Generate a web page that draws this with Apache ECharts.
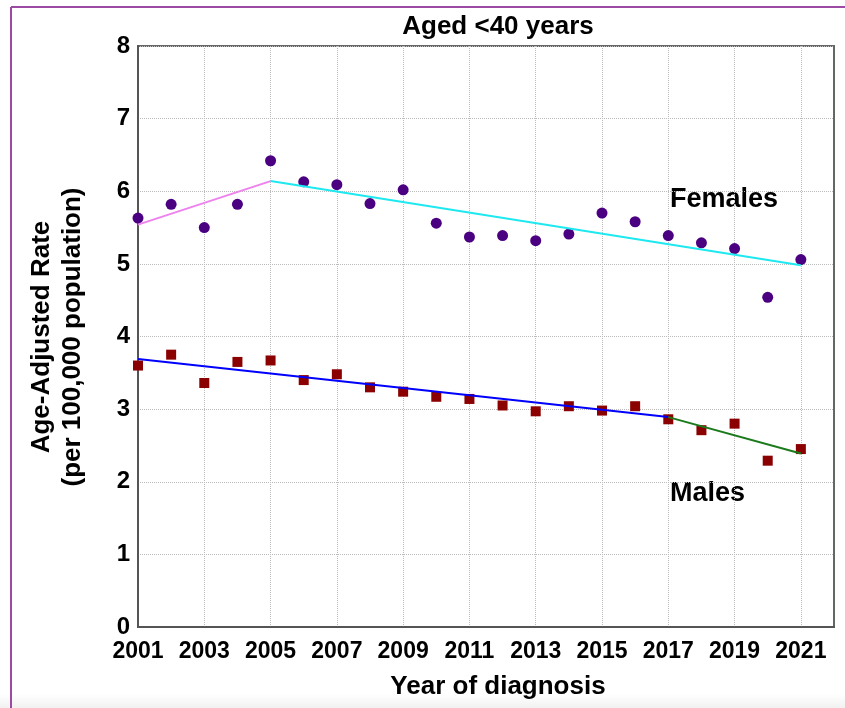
<!DOCTYPE html>
<html>
<head>
<meta charset="utf-8">
<script src="https://cdn.jsdelivr.net/npm/echarts@6/dist/echarts.min.js"></script>
<style>
html,body{margin:0;padding:0;background:#fff;}
#c{width:845px;height:708px;}
</style>
</head>
<body>
<div id="c"></div>
<script>
const years = ['2001','2002','2003','2004','2005','2006','2007','2008','2009','2010','2011','2012','2013','2014','2015','2016','2017','2018','2019','2020','2021','2022'];
const femaleRates = [5.63,5.82,5.50,5.82,6.42,6.13,6.09,5.83,6.02,5.56,5.37,5.39,5.32,5.41,5.70,5.58,5.39,5.29,5.21,4.54,5.06];
const maleRates = [3.60,3.75,3.36,3.65,3.67,3.40,3.48,3.30,3.24,3.17,3.14,3.05,2.97,3.04,2.98,3.04,2.86,2.71,2.80,2.29,2.45];
const femaleTrend1 = [['2001',5.54],['2005',6.14]];
const femaleTrend2 = [['2005',6.14],['2021',4.98]];
const maleTrend1 = [['2001',3.69],['2017',2.89]];
const maleTrend2 = [['2017',2.89],['2021',2.39]];
const yTicks = [0,1,2,3,4,5,6,7,8];

const chart = echarts.init(document.getElementById('c'), null, {renderer:'canvas'});
const font = 'Liberation Sans, Arial, sans-serif';
chart.setOption({
  animation:false,
  backgroundColor:'#fff',
  grid:{left:138,right:11,top:46,bottom:81,show:true,borderColor:'#666',borderWidth:2,backgroundColor:'transparent'},
  xAxis:{
    type:'category',data:years,boundaryGap:false,
    axisLine:{show:true,lineStyle:{color:'#555',width:2}},
    axisTick:{show:false},
    axisLabel:{interval:1,color:'#000',fontWeight:'bold',fontSize:23,fontFamily:font,margin:13},
    splitLine:{show:true,interval:1,lineStyle:{color:'#bbb',type:'dotted',width:1}}
  },
  yAxis:{
    type:'value',min:yTicks[0],max:yTicks[yTicks.length-1],interval:1,
    axisLine:{show:true,lineStyle:{color:'#555',width:2}},
    axisTick:{show:false},
    axisLabel:{color:'#000',fontWeight:'bold',fontSize:24,fontFamily:font,margin:8},
    splitLine:{show:true,lineStyle:{color:'#bbb',type:'dotted',width:1}}
  },
  graphic:[
    {type:'rect',shape:{x:0,y:694,width:845,height:14},style:{fill:new echarts.graphic.LinearGradient(0,0,0,1,[{offset:0,color:'#ffffff'},{offset:1,color:'#f1f1f1'}])},z:-1},
    {type:'line',shape:{x1:11,y1:7,x2:845,y2:7},style:{stroke:'#9c4aa3',lineWidth:2}},
    {type:'line',shape:{x1:11,y1:7,x2:11,y2:708},style:{stroke:'#9c4aa3',lineWidth:2}},
    {type:'text',style:{text:'Aged <40 years',x:498,y:27,align:'center',verticalAlign:'middle',font:'bold 26px '+font,fill:'#000'}},
    {type:'text',style:{text:'Year of diagnosis',x:498,y:687,align:'center',verticalAlign:'middle',font:'bold 26px '+font,fill:'#000'}},
    {type:'text',rotation:Math.PI/2,x:57,y:337,style:{text:'Age-Adjusted Rate\n(per 100,000 population)',x:0,y:0,align:'center',verticalAlign:'middle',font:'bold 26px '+font,fill:'#000',lineHeight:31}},
    {type:'text',style:{text:'Females',x:670,y:200,align:'left',verticalAlign:'middle',font:'bold 27px '+font,fill:'#000'}},
    {type:'text',style:{text:'Males',x:670,y:494,align:'left',verticalAlign:'middle',font:'bold 27px '+font,fill:'#000'}}
  ],
  series:[
    {type:'scatter',data:femaleRates,symbol:'circle',symbolSize:11,itemStyle:{color:'#4b0082',opacity:1},z:2},
    {type:'scatter',data:maleRates,symbol:'rect',symbolSize:10,itemStyle:{color:'#8b0000',opacity:1},z:2},
    {type:'line',data:femaleTrend1,showSymbol:false,lineStyle:{color:'#ee82ee',width:2},z:3},
    {type:'line',data:femaleTrend2,showSymbol:false,lineStyle:{color:'#1ee8f0',width:2},z:3},
    {type:'line',data:maleTrend1,showSymbol:false,lineStyle:{color:'#0000ff',width:2},z:3},
    {type:'line',data:maleTrend2,showSymbol:false,lineStyle:{color:'#1b7a1b',width:2},z:3}
  ]
});
</script>
</body>
</html>
